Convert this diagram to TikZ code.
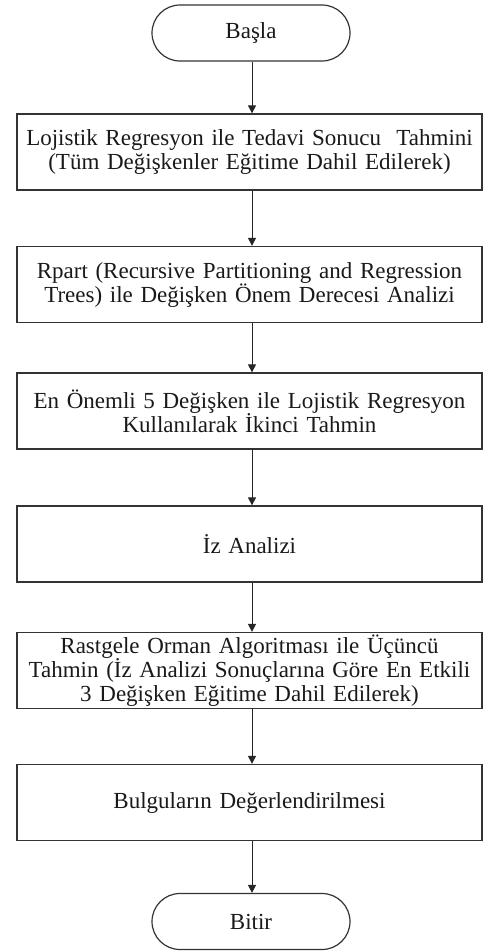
\documentclass[tikz,border=0pt]{standalone}
\usepackage{fontspec}
\setmainfont{Liberation Serif}
\usetikzlibrary{shapes.misc,arrows.meta}
\begin{document}
\begin{tikzpicture}[x=1pt,y=-1pt,
  every node/.style={font=\fontsize{23}{24}\selectfont, text=black!90},
  term/.style={draw=black!80, line width=1.2pt, rounded rectangle, minimum width=198pt, minimum height=56pt, inner sep=0pt},
  proc/.style={draw=black!80, line width=1.3pt, rectangle, minimum width=465pt, minimum height=76pt, inner sep=0pt, text width=462pt, align=center},
  conn/.style={draw=black!85, line width=1pt, -{Triangle[length=8pt,width=8pt]}}]
\useasboundingbox (0,0) rectangle (483,951);
\node[term] (start) at (251,33) {Başla};
\node[proc] (b1) at (249.5,152) {Lojistik Regresyon ile Tedavi Sonucu\ \ Tahmini\\(Tüm Değişkenler Eğitime Dahil Edilerek)};
\node[proc] (b2) at (249.5,284.5) {Rpart (Recursive Partitioning and Regression\\Trees) ile Değişken Önem Derecesi Analizi};
\node[proc] (b3) at (249.5,411) {En Önemli 5 Değişken ile Lojistik Regresyon\\Kullanılarak İkinci Tahmin};
\node[proc] (b4) at (249.5,544) {İz Analizi};
\node[proc] (b5) at (249.5,670.5) {Rastgele Orman Algoritması ile Üçüncü\\Tahmin (İz Analizi Sonuçlarına Göre En Etkili\\3 Değişken Eğitime Dahil Edilerek)};
\node[proc] (b6) at (249.5,802.5) {Bulguların Değerlendirilmesi};
\node[term] (end) at (251,921.5) {Bitir};
\draw[conn] (start.south -| 252,0) -- (b1.north -| 252,0);
\draw[conn] (b1.south -| 252,0) -- (b2.north -| 252,0);
\draw[conn] (b2.south -| 252,0) -- (b3.north -| 252,0);
\draw[conn] (b3.south -| 252,0) -- (b4.north -| 252,0);
\draw[conn] (b4.south -| 252,0) -- (b5.north -| 252,0);
\draw[conn] (b5.south -| 252,0) -- (b6.north -| 252,0);
\draw[conn] (b6.south -| 252,0) -- (end.north -| 252,0);
\end{tikzpicture}
\end{document}
